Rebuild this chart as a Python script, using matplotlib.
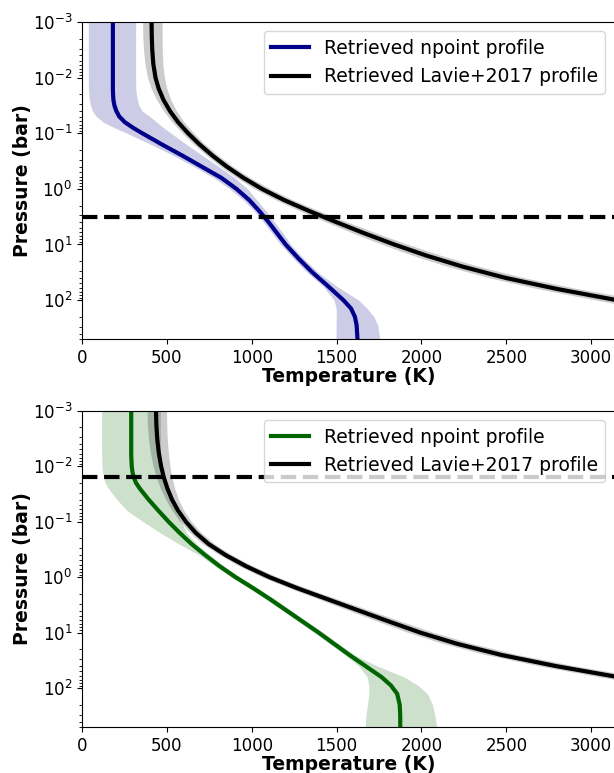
import numpy as np
import matplotlib
matplotlib.use("Agg")
import matplotlib.pyplot as plt

# ---- Upper panel: npoint retrieval (blue) ----
logp_np1 = [-3.0, -2.5, -2.0, -1.8, -1.7, -1.6, -1.5, -1.4, -1.3, -1.2, -1.1, -1.0,
            -0.8, -0.6, -0.4, -0.2, 0.0, 0.2, 0.4, 0.6, 0.8, 1.0, 1.25, 1.5, 1.75,
            2.0, 2.15, 2.3, 2.45, 2.7]
t_np1 = [182, 182, 182, 182, 183, 185, 191, 202, 220, 252, 300, 355,
         470, 590, 705, 820, 910, 985, 1045, 1100, 1150, 1200, 1275, 1357, 1450,
         1540, 1585, 1608, 1618, 1623]
t_np1_lo = [37, 37, 37, 38, 40, 43, 50, 62, 85, 125, 190, 265,
            405, 540, 660, 775, 870, 950, 1015, 1070, 1120, 1170, 1245, 1325, 1420,
            1485, 1498, 1498, 1497, 1497]
t_np1_hi = [316, 316, 316, 317, 320, 326, 335, 355, 400, 440, 480, 525,
            615, 710, 805, 900, 975, 1030, 1085, 1135, 1185, 1230, 1305, 1390, 1500,
            1630, 1680, 1720, 1742, 1755]

# ---- Lavie+2017 profiles (black), shared pressure grid ----
logp_lav = [-3.0, -2.75, -2.5, -2.25, -2.0, -1.8, -1.6, -1.4, -1.2, -1.0, -0.8, -0.6,
            -0.4, -0.2, 0.0, 0.2, 0.4, 0.6, 0.8, 1.0, 1.2, 1.4, 1.6, 1.8, 2.0, 2.2,
            2.45, 2.7]
t_lav1 = [410, 411, 414, 420, 433, 452, 480, 518, 566, 625, 692, 768,
          853, 950, 1060, 1190, 1340, 1500, 1665, 1840, 2030, 2245, 2495, 2800, 3150, 3520,
          4000, 4500]
t_lav1_lo = [360, 361, 365, 373, 388, 410, 441, 482, 532, 592, 659, 734,
             817, 910, 1015, 1140, 1284, 1438, 1596, 1764, 1946, 2152, 2391, 2682, 3018, 3375,
             3835, 4315]
t_lav1_hi = [475, 475, 476, 479, 488, 502, 525, 558, 602, 659, 725, 802,
             889, 990, 1105, 1240, 1396, 1562, 1734, 1916, 2114, 2338, 2599, 2918, 3282, 3665,
             4165, 4685]

t_lav2 = [436, 438, 443, 452, 466, 482, 503, 530, 566, 612, 670, 745,
          845, 965, 1105, 1270, 1450, 1630, 1810, 1995, 2210, 2470, 2790, 3160, 3560, 3980,
          4520, 5100]
t_lav2_lo = [386, 388, 394, 405, 421, 440, 464, 494, 532, 579, 637, 711,
             809, 925, 1060, 1220, 1394, 1568, 1741, 1919, 2126, 2377, 2686, 3042, 3428, 3835,
             4355, 4915]
t_lav2_hi = [501, 502, 505, 511, 521, 532, 548, 570, 602, 646, 703, 779,
             881, 1005, 1150, 1320, 1506, 1692, 1879, 2071, 2294, 2563, 2894, 3278, 3692, 4125,
             4685, 5285]

# ---- Lower panel: npoint retrieval (green) ----
logp_np2 = [-3.0, -2.5, -2.2, -2.0, -1.9, -1.8, -1.7, -1.6, -1.4, -1.2, -1.0, -0.8,
            -0.6, -0.4, -0.2, 0.0, 0.2, 0.4, 0.6, 0.8, 1.0, 1.2, 1.4, 1.6, 1.8,
            1.95, 2.1, 2.3, 2.5, 2.7]
t_np2 = [290, 290, 290, 293, 297, 305, 318, 340, 392, 450, 510, 575,
         645, 725, 810, 905, 1010, 1110, 1205, 1300, 1395, 1485, 1575, 1670, 1765,
         1820, 1857, 1872, 1875, 1875]
t_np2_lo = [116, 116, 116, 118, 121, 127, 137, 155, 205, 265, 360, 460,
            570, 690, 785, 880, 985, 1085, 1180, 1275, 1370, 1460, 1550, 1630, 1680,
            1690, 1690, 1682, 1673, 1668]
t_np2_hi = [462, 462, 462, 465, 468, 475, 485, 498, 528, 558, 585, 615,
            675, 752, 837, 932, 1037, 1137, 1232, 1327, 1422, 1512, 1605, 1740, 1900,
            1980, 2035, 2065, 2080, 2090]

# pressure of the horizontal reference level in each panel (bar)
p_level = [3.16, 0.0158]

labels = ["Retrieved npoint profile", "Retrieved Lavie+2017 profile"]

fig = plt.figure(figsize=(6.14, 7.73), dpi=100)
W, H = 614.0, 773.0
left = 82 / W
width = (614.6 - 82) / W
ax1 = fig.add_axes([left, 1 - 339 / H, width, 317 / H])
ax2 = fig.add_axes([left, 1 - 727 / H, width, 316.3 / H])

panels = [
    (ax1, logp_np1, t_np1, t_np1_lo, t_np1_hi, "darkblue",
     t_lav1, t_lav1_lo, t_lav1_hi, p_level[0]),
    (ax2, logp_np2, t_np2, t_np2_lo, t_np2_hi, "darkgreen",
     t_lav2, t_lav2_lo, t_lav2_hi, p_level[1]),
]

for ax, lp, t, tlo, thi, lc, tl, tllo, tlhi, plev in panels:
    p = 10.0 ** np.array(lp)
    pl = 10.0 ** np.array(logp_lav)
    ax.fill_betweenx(p, tlo, thi, color=lc, alpha=0.2, lw=0)
    ax.plot(t, p, color=lc, lw=3, label=labels[0], solid_joinstyle="round")
    ax.fill_betweenx(pl, tllo, tlhi, color="k", alpha=0.2, lw=0)
    ax.plot(tl, pl, color="k", lw=3, label=labels[1], solid_joinstyle="round")
    ax.axhline(plev, color="k", lw=3, ls="--")
    ax.set_yscale("log")
    ax.set_ylim(500, 1e-3)
    ax.set_xlim(0, 3138)
    ax.set_xticks([0, 500, 1000, 1500, 2000, 2500, 3000])
    ax.tick_params(labelsize=12)
    ax.set_xlabel("Temperature (K)", fontsize=13.5, fontweight="bold", labelpad=0)
    ax.set_ylabel("Pressure (bar)", fontsize=13.5, fontweight="bold", labelpad=0.5)
    ax.legend(loc="upper right", fontsize=13.5)

fig.savefig("out.png", dpi=100)
